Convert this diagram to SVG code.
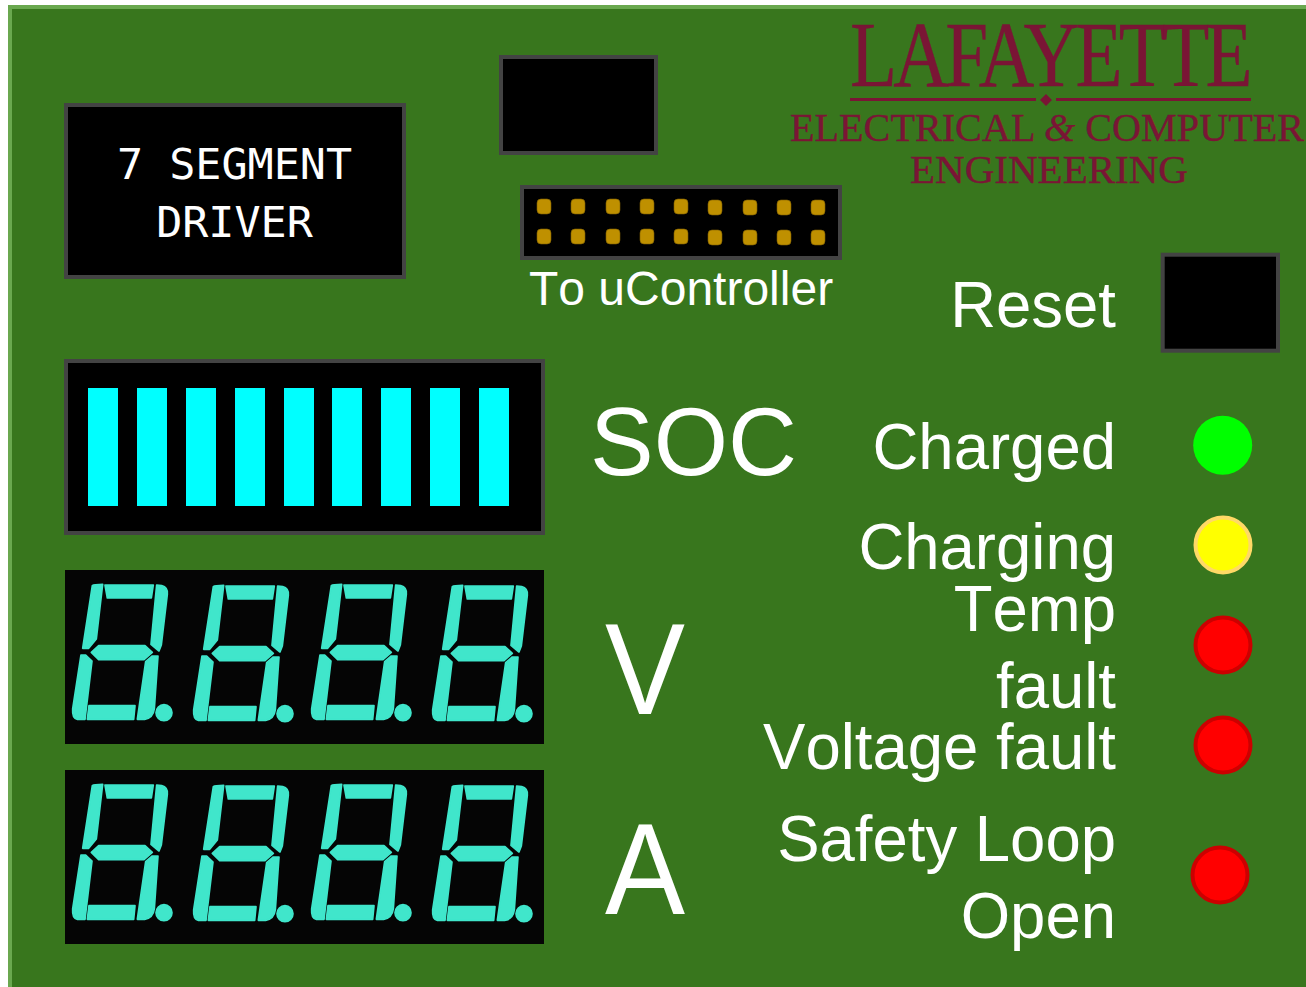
<svg xmlns="http://www.w3.org/2000/svg" width="1306" height="987" viewBox="0 0 1306 987">
<style>
.box{fill:#000;stroke:#434343;stroke-width:4}
.lbl{font-family:"Liberation Sans",Arial,sans-serif;fill:#fff;text-anchor:end;font-size:63.5px;font-kerning:none}
.big{font-family:"Liberation Sans",Arial,sans-serif;fill:#fff;font-kerning:none}
.mono{font-family:"DejaVu Sans Mono",monospace;fill:#fff;font-size:43.4px;text-anchor:middle}
.logo{font-family:"Liberation Serif","Times New Roman",serif;fill:#7a1535;stroke:#7a1535;stroke-width:.4}
.pin{fill:#bf9000;stroke:#7f6000;stroke-width:.6}
.bar{fill:#0ff}
.seg{fill:#3fe6cb;stroke:#3fe6cb;stroke-width:5;stroke-linejoin:round}
.led{stroke-width:4}
</style>
<defs>
<filter id="soft" x="-5%" y="-5%" width="110%" height="110%"><feGaussianBlur stdDeviation=".45"/></filter>
<g id="digit" class="seg" transform="scale(.3333)" filter="url(#soft)">
<path d="M135,60 L280,60 L274,99 L142,99 Z"/>
<path d="M97,62 Q102,58 128,58 L109,222 L86,250 L68,250 Z"/>
<path d="M290,60 L305,62 Q324,67 322,88 L304,240 L297,258 L273,238 Z"/>
<path d="M94,262 L116,242 L255,242 L277,262 L252,284 L116,284 Z"/>
<path d="M63,270 L77,270 L96,288 L75,463 L52,463 Q36,460 38,432 Z"/>
<path d="M277,273 L294,273 L283,432 Q279,460 254,463 L232,463 L257,290 Z"/>
<path d="M87,422 L225,422 L221,463 L82,463 Z"/>
<circle cx="312" cy="443" r="24"/>
</g>
<g id="disp">
<rect x="0" y="0" width="479" height="174" fill="#050505"/>
<use href="#digit" transform="translate(-5,-5)"/>
<use href="#digit" transform="translate(116,-4)"/>
<use href="#digit" transform="translate(234,-5)"/>
<use href="#digit" transform="translate(355,-4)"/>
</g>
<rect id="p" class="pin" width="14" height="15" rx="4"/>
</defs>

<g id="board"><rect x="10" y="7" width="1310" height="990" fill="#38761d" stroke="#6aa84f" stroke-width="4"/></g>

<g id="logo">
<text class="logo" font-size="94" transform="translate(850,86) scale(.82,1)" textLength="491" lengthAdjust="spacing">LAFAYETTE</text>
<rect x="850" y="98" width="186" height="3" fill="#7a1535"/>
<rect x="1056" y="98" width="195" height="3" fill="#7a1535"/>
<path d="M1046,94 L1052,100 L1046,106 L1040,100 Z" fill="#7a1535"/>
<text class="logo" x="790" y="141" font-size="40" textLength="514" lengthAdjust="spacingAndGlyphs">ELECTRICAL <tspan font-style="italic">&amp;</tspan> COMPUTER</text>
<text class="logo" x="910" y="183" font-size="40" textLength="278" lengthAdjust="spacingAndGlyphs">ENGINEERING</text>
</g>

<g id="driver">
<rect class="box" x="66" y="105" width="338" height="172"/>
<text class="mono" x="234.500" y="179">7 SEGMENT</text>
<text class="mono" x="234.500" y="237">DRIVER</text>
</g>

<g id="chip"><rect class="box" x="501" y="57" width="155" height="96"/></g>

<g id="header">
<rect class="box" x="522" y="187" width="318" height="71"/>
<use href="#p" x="537" y="199"/><use href="#p" x="571" y="199"/><use href="#p" x="606" y="199"/><use href="#p" x="640" y="199"/><use href="#p" x="674" y="199"/><use href="#p" x="708" y="200"/><use href="#p" x="743" y="200"/><use href="#p" x="777" y="200"/><use href="#p" x="811" y="200"/>
<use href="#p" x="537" y="229"/><use href="#p" x="571" y="229"/><use href="#p" x="606" y="229"/><use href="#p" x="640" y="229"/><use href="#p" x="674" y="229"/><use href="#p" x="708" y="230"/><use href="#p" x="743" y="230"/><use href="#p" x="777" y="230"/><use href="#p" x="811" y="230"/>
<text class="big" x="529" y="305" font-size="48">To uController</text>
</g>

<g id="reset">
<text class="lbl" transform="translate(1116,327) scale(1,1.03)">Reset</text>
<rect class="box" x="1162.7" y="254.7" width="115.3" height="96"/>
</g>

<g id="soc">
<rect class="box" x="66" y="361" width="477" height="172"/>
<rect class="bar" x="88" y="388" width="30" height="118"/>
<rect class="bar" x="137" y="388" width="30" height="118"/>
<rect class="bar" x="186" y="388" width="30" height="118"/>
<rect class="bar" x="235" y="388" width="30" height="118"/>
<rect class="bar" x="284" y="388" width="30" height="118"/>
<rect class="bar" x="332" y="388" width="30" height="118"/>
<rect class="bar" x="381" y="388" width="30" height="118"/>
<rect class="bar" x="430" y="388" width="30" height="118"/>
<rect class="bar" x="479" y="388" width="30" height="118"/>
<text class="big" x="590" y="475" font-size="95.5">SOC</text>
</g>

<g id="volts">
<use href="#disp" x="65" y="570"/>
<text class="big" font-size="120" transform="translate(605,714) scale(1,1.09)">V</text>
</g>
<g id="amps">
<use href="#disp" x="65" y="770"/>
<text class="big" font-size="120" transform="translate(605,914) scale(1,1.09)">A</text>
</g>

<g id="charged"><text class="lbl" transform="translate(1116,469) scale(1,1.03)">Charged</text><circle cx="1222.7" cy="445.2" r="29.5" fill="#0f0"/></g>
<g id="charging"><text class="lbl" transform="translate(1116,569) scale(1,1.03)">Charging</text><circle class="led" cx="1223" cy="545" r="27.5" fill="#ff0" stroke="#ffd966"/></g>
<g id="temp"><text class="lbl" transform="translate(1116,631) scale(1,1.03)">Temp</text><text class="lbl" transform="translate(1116,707.500) scale(1,1.03)">fault</text><circle class="led" cx="1223" cy="645" r="27.5" fill="#f00" stroke="#cc0000"/></g>
<g id="voltage"><text class="lbl" transform="translate(1116,769) scale(1,1.03)">Voltage fault</text><circle class="led" cx="1223" cy="745" r="27.5" fill="#f00" stroke="#cc0000"/></g>
<g id="safety"><text class="lbl" transform="translate(1116,860.500) scale(1,1.03)">Safety Loop</text><text class="lbl" transform="translate(1116,938) scale(1,1.03)">Open</text><circle class="led" cx="1220" cy="875" r="27.5" fill="#f00" stroke="#cc0000"/></g>
<g id="connectors"></g>
</svg>
